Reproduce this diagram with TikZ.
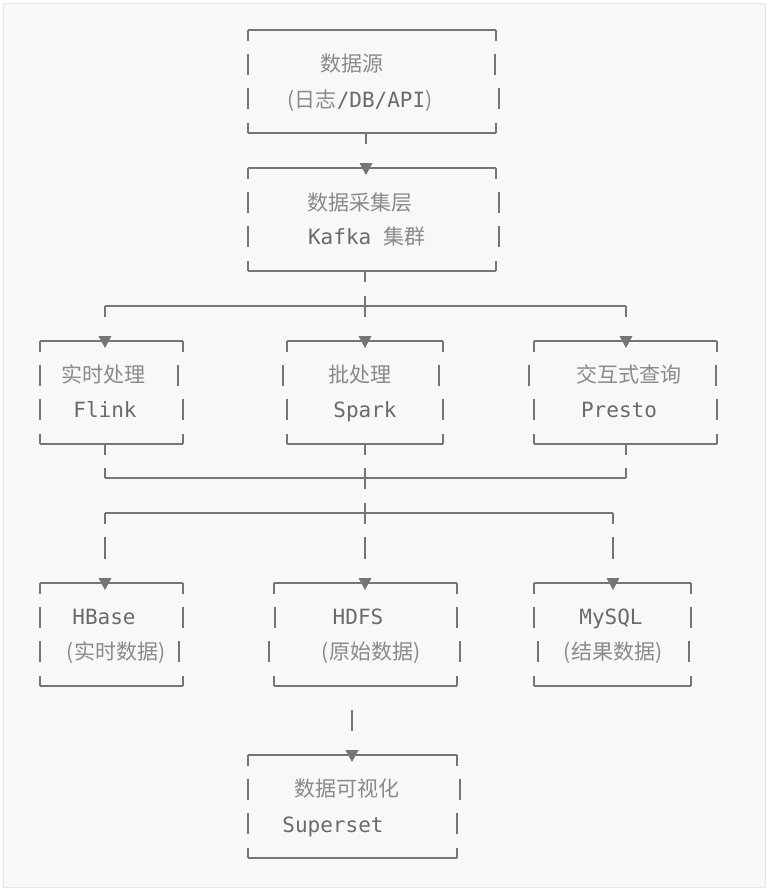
\documentclass[tikz,border=0pt]{standalone}
\usepackage{fontspec}
\setmonofont{DejaVu Sans Mono}
\newfontfamily\cjk{Noto Sans CJK SC}
\definecolor{ln}{HTML}{757575}
\definecolor{cjkc}{HTML}{8A8A8A}
\definecolor{monoc}{HTML}{6A6A6A}
\definecolor{bg}{HTML}{F8F8F8}
\definecolor{bgline}{HTML}{E6E6E6}
\newcommand\Cj[1]{{\cjk\color{cjkc}#1}}
\newcommand\Mo[1]{{\ttfamily\color{monoc}#1}}
% box: name, L, R, T, row1 left, row1 right, row2 left, row2 right, connector x
\newcommand\abox[9]{%
  \draw[gline] (#2,#4) -- (#3,#4);
  \draw[gline] (#2,#4) -- (#2,#4+11);
  \draw[gline] (#3,#4) -- (#3,#4+11);
  \draw[gline] (#5,#4+34.5-11) -- (#5,#4+34.5+10);
  \draw[gline] (#6,#4+34.5-11) -- (#6,#4+34.5+10);
  \draw[gline] (#7,#4+69-11) -- (#7,#4+69+10);
  \draw[gline] (#8,#4+69-11) -- (#8,#4+69+10);
  \draw[gline] (#2,#4+103) -- (#3,#4+103);
  \draw[gline] (#2,#4+103-10) -- (#2,#4+103);
  \draw[gline] (#3,#4+103-10) -- (#3,#4+103);
  \coordinate (#1-in) at (#9,#4);
  \coordinate (#1-out) at (#9,#4+103);
}
\newcommand\downtip[1]{\fill[ln] ($(#1)+(-6.5,-5)$) -- ($(#1)+(6.5,-5)$) -- ($(#1)+(0,7)$) -- cycle;}
\usetikzlibrary{calc}
\begin{document}
\begin{tikzpicture}[x=1pt,y=-1pt,
  gline/.style={draw=ln,line width=2.2pt},
  txt/.style={inner sep=0pt,anchor=base,font=\fontsize{21}{24}\selectfont}]
\useasboundingbox (0,0) rectangle (768,894);
\fill[white] (0,0) rectangle (768,894);
\draw[fill=bg,draw=bgline,line width=1pt] (3,3) rectangle (765,887);

% boxes
\abox{src}{248}{496}{30}{248}{495}{248}{499}{366}
\abox{kafka}{248}{496}{168}{248}{499}{248}{499}{366}
\abox{flink}{40}{183}{341}{40}{178}{40}{183}{105}
\abox{spark}{287}{443}{341}{283}{439}{287}{443}{365}
\abox{presto}{534}{717}{341}{529}{716}{534}{717}{626}
\abox{hbase}{40}{183}{583}{40}{183}{40}{179}{105}
\abox{hdfs}{274}{457}{583}{275}{457}{269}{460}{365}
\abox{mysql}{534}{691}{583}{534}{691}{538}{689}{613}
\abox{viz}{248}{457}{755}{248}{460}{248}{457}{352}

% arrow tips on box tops
\downtip{kafka-in}
\downtip{flink-in}
\downtip{spark-in}
\downtip{presto-in}
\downtip{hbase-in}
\downtip{hdfs-in}
\downtip{mysql-in}
\downtip{viz-in}

% texts
\node[txt] (t1a) at (352,71.5) {\Cj{数据源}};
\node[txt] (t1b) at (360,107.5) {\Cj{(日志}\Mo{/DB/API}\Cj{)}};
\node[txt] (t2a) at (360,210.5) {\Cj{数据采集层}};
\node[txt] (t2b) at (367,244.5) {\Mo{Kafka }\Cj{集群}};
\node[txt] (t3a) at (103,382.5) {\Cj{实时处理}};
\node[txt] (t3b) at (105,417.5) {\Mo{Flink}};
\node[txt] (t4a) at (360,382.5) {\Cj{批处理}};
\node[txt] (t4b) at (365,417.5) {\Mo{Spark}};
\node[txt] (t5a) at (629,382.5) {\Cj{交互式查询}};
\node[txt] (t5b) at (619,417.5) {\Mo{Presto}};
\node[txt] (t6a) at (104,624.5) {\Mo{HBase}};
\node[txt] (t6b) at (116,659.5) {\Cj{(实时数据)}};
\node[txt] (t7a) at (358,624.5) {\Mo{HDFS}};
\node[txt] (t7b) at (371,659.5) {\Cj{(原始数据)}};
\node[txt] (t8a) at (611,624.5) {\Mo{MySQL}};
\node[txt] (t8b) at (613,659.5) {\Cj{(结果数据)}};
\node[txt] (t9a) at (347,796.5) {\Cj{数据可视化}};
\node[txt] (t9b) at (333,832.5) {\Mo{Superset}};

% connectors
\draw[gline] (src-out) -- ++(0,11);
\draw[gline] (kafka-out) ++(-1,0) -- ++(0,11);
% bus 1
\coordinate (b1l) at (105,306);
\coordinate (b1r) at (626,306);
\draw[gline] (b1l) -- (b1r);
\draw[gline] (b1l) -- ++(0,11);
\draw[gline] (b1r) -- ++(0,11);
\draw[gline] (365,296) -- (365,317);
% stubs below middle row
\draw[gline] (flink-out) -- ++(0,11);
\draw[gline] (spark-out) -- ++(0,11);
\draw[gline] (presto-out) -- ++(0,11);
% bus 2
\coordinate (b2l) at (105,478);
\coordinate (b2r) at (626,478);
\draw[gline] (b2l) -- (b2r);
\draw[gline] (b2l) -- ++(0,-10);
\draw[gline] (b2r) -- ++(0,-10);
\draw[gline] (365,468) -- (365,489);
% bus 3
\coordinate (b3l) at (105,513);
\coordinate (b3r) at (613,513);
\draw[gline] (b3l) -- (b3r);
\draw[gline] (b3l) -- ++(0,11);
\draw[gline] (b3r) -- ++(0,11);
\draw[gline] (365,503) -- (365,524);
% bars row
\draw[gline] (105,537) -- (105,559);
\draw[gline] (365,537) -- (365,559);
\draw[gline] (613,537) -- (613,559);
% to viz
\draw[gline] (352,710) -- (352,731);
\end{tikzpicture}
\end{document}
